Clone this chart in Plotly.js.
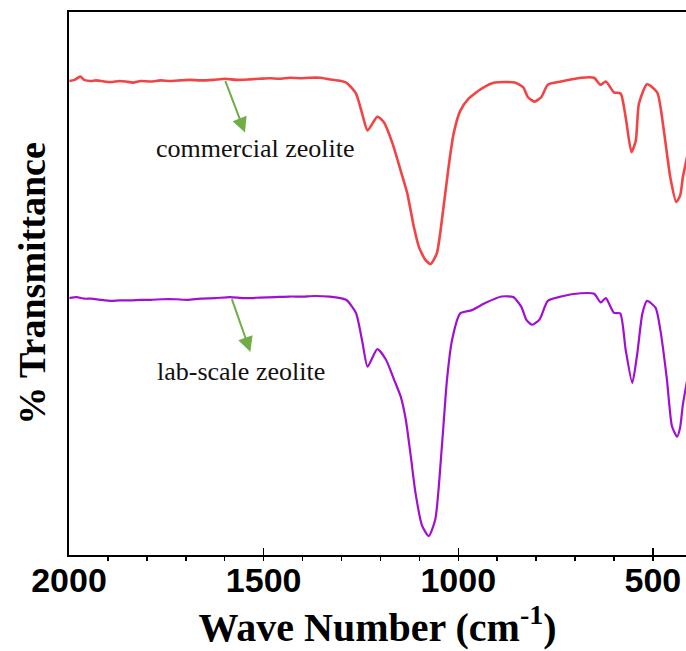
<!DOCTYPE html>
<html>
<head>
<meta charset="utf-8">
<script src="https://cdn.plot.ly/plotly-3.0.1.min.js"></script>
<style>
  html, body { margin: 0; padding: 0; background: #ffffff; }
  #chart { width: 686px; height: 651px; }
</style>
</head>
<body>
<div id="chart"></div>
<script>
// Wavenumbers (cm^-1) and % transmittance (arbitrary offset units)
const commercialWn = [1999, 1986, 1971, 1961, 1945, 1930, 1910, 1892, 1870, 1854, 1835, 1816, 1790, 1765, 1740, 1714, 1690, 1662, 1630, 1599, 1570, 1535, 1510, 1484, 1460, 1433, 1405, 1382, 1355, 1331, 1310, 1288, 1263, 1247, 1233, 1208, 1191, 1169, 1148, 1131, 1114, 1101, 1084, 1071, 1055, 1038, 1025, 1012, 995, 974, 940, 906, 855, 833, 821, 804, 787, 770, 736, 685, 651, 635, 621, 600, 583, 570, 555, 544, 536, 515, 489, 472, 455, 440, 430, 423, 410];
const commercialT  = [87.3, 87.5, 88.1, 87.5, 87.3, 87.4, 87.2, 87.1, 87.3, 87.2, 87.0, 87.3, 87.2, 87.4, 87.3, 87.4, 87.5, 87.4, 87.5, 87.7, 87.5, 87.6, 87.7, 87.8, 87.7, 87.9, 87.8, 87.9, 87.9, 87.6, 87.4, 87.0, 85.0, 81.3, 78.2, 80.7, 79.7, 75.8, 70.8, 66.6, 60.4, 56.7, 54.3, 53.6, 55.6, 64.0, 71.4, 77.6, 81.8, 84.0, 85.9, 87.0, 87.0, 86.1, 84.3, 83.5, 84.3, 86.6, 87.2, 87.9, 87.9, 86.6, 87.2, 85.2, 85.0, 80.6, 74.2, 76.3, 83.1, 86.7, 85.2, 78.2, 69.4, 65.0, 66.2, 69.6, 74.0];

const labWn = [1999, 1981, 1960, 1943, 1920, 1892, 1870, 1841, 1815, 1790, 1760, 1726, 1695, 1662, 1625, 1586, 1550, 1509, 1470, 1433, 1400, 1369, 1331, 1310, 1288, 1263, 1246, 1233, 1208, 1186, 1165, 1148, 1135, 1122, 1110, 1093, 1076, 1059, 1042, 1029, 1016, 995, 965, 931, 889, 859, 838, 825, 810, 791, 770, 736, 685, 651, 634, 621, 600, 584, 570, 553, 540, 527, 515, 493, 481, 464, 451, 438, 430, 423, 410];
const labT  = [47.3, 47.5, 47.2, 47.2, 47.0, 46.8, 46.9, 46.9, 47.0, 47.0, 47.1, 47.1, 47.0, 47.2, 47.3, 47.5, 47.3, 47.4, 47.5, 47.6, 47.6, 47.7, 47.6, 47.4, 47.0, 44.6, 39.1, 34.7, 37.9, 36.0, 32.3, 29.2, 25.0, 18.2, 11.5, 5.4, 3.5, 6.6, 20.1, 32.3, 39.6, 44.5, 45.1, 46.4, 47.6, 47.5, 45.7, 43.3, 42.4, 43.4, 46.8, 47.6, 48.2, 48.1, 46.5, 47.3, 44.6, 44.5, 37.8, 31.7, 37.2, 44.5, 46.8, 45.5, 41.5, 32.3, 23.7, 21.8, 23.5, 27.7, 33.0];

const labelTexts = ['commercial zeolite', 'lab-scale zeolite'];
const labelWn = [1520, 1557];
const labelT = [74.9, 33.8];
const arrowTailWn = [1600, 1583];
const arrowTailT = [87.6, 47.4];
const arrowHeadWn = [1548, 1534];
const arrowHeadT = [77.8, 37.4];

const serif = '"Liberation Serif", "Times New Roman", Times, serif';
const sans = '"Liberation Sans", Arial, Helvetica, sans-serif';

const traces = [
  { x: commercialWn, y: commercialT, type: 'scatter', mode: 'lines', name: 'commercial zeolite',
    line: { color: '#f24444', width: 2.6, shape: 'spline', smoothing: 0.6 }, hoverinfo: 'skip' },
  { x: labWn, y: labT, type: 'scatter', mode: 'lines', name: 'lab-scale zeolite',
    line: { color: '#a010d2', width: 2.2, shape: 'spline', smoothing: 0.6 }, hoverinfo: 'skip' }
];

const annotations = [];
for (let i = 0; i < labelTexts.length; i++) {
  annotations.push({
    x: labelWn[i], y: labelT[i], xref: 'x', yref: 'y', text: labelTexts[i],
    showarrow: false, font: { family: serif, size: 26, color: '#111111' },
    xanchor: 'center', yanchor: 'middle'
  });
  annotations.push({
    x: arrowHeadWn[i], y: arrowHeadT[i], ax: arrowTailWn[i], ay: arrowTailT[i],
    xref: 'x', yref: 'y', axref: 'x', ayref: 'y', text: '', showarrow: true,
    arrowhead: 2, arrowsize: 1.5, arrowwidth: 2, arrowcolor: '#70ad47', standoff: 0
  });
}

const layout = {
  width: 686, height: 651,
  margin: { l: 69, r: 0, t: 12, b: 96 },
  paper_bgcolor: '#ffffff', plot_bgcolor: '#ffffff',
  showlegend: false,
  xaxis: {
    range: [2000, 415], autorange: false,
    showline: true, linecolor: '#000000', linewidth: 2, mirror: true,
    showgrid: false, zeroline: false,
    tickmode: 'linear', tick0: 0, dtick: 500,
    ticks: 'inside', ticklen: 7, tickwidth: 1.5, tickcolor: '#000000',
    minor: { ticks: 'outside', dtick: 100, tick0: 0, ticklen: 4, tickwidth: 1.5, tickcolor: '#000000', showgrid: false },
    tickfont: { family: sans, size: 34, color: '#000000', weight: 'bold' },
    ticklabelstandoff: -6,
    title: { text: 'Wave Number (cm<sup>-1</sup>)', font: { family: serif, size: 40, color: '#000000', weight: 'bold' }, standoff: 6 }
  },
  yaxis: {
    range: [0, 100], autorange: false,
    showline: true, linecolor: '#000000', linewidth: 2, mirror: false,
    showgrid: false, zeroline: false, showticklabels: false, ticks: '',
    title: { text: '% Transmittance', font: { family: serif, size: 38, color: '#000000', weight: 'bold' }, standoff: 10 }
  },
  annotations: annotations
};

Plotly.newPlot('chart', traces, layout, { displayModeBar: false, staticPlot: true });
</script>
</body>
</html>
